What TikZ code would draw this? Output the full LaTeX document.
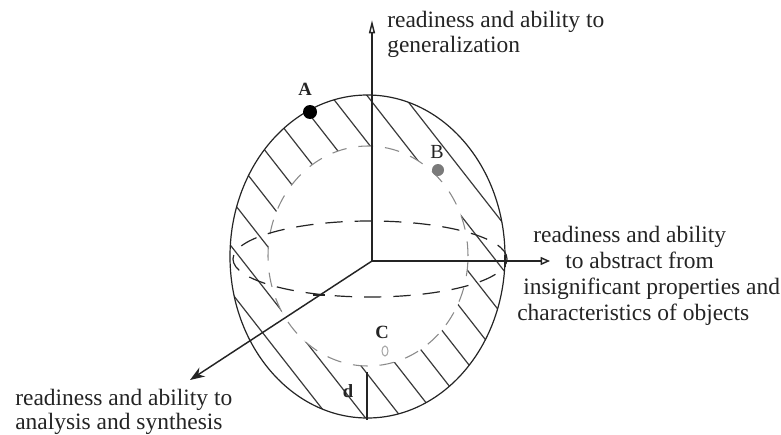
\documentclass[tikz,border=0pt]{standalone}
\usepackage{fontspec}
\setmainfont{Liberation Serif}
\usetikzlibrary{arrows.meta,shapes.geometric}
\definecolor{ink}{HTML}{242424}
\definecolor{hatch}{HTML}{3A3A3A}
\definecolor{dashgray}{HTML}{8A8A8A}
\definecolor{dotgray}{HTML}{7A7A7A}
\definecolor{ringgray}{HTML}{A8A8A8}

\begin{document}
\begin{tikzpicture}[x=0.75pt,y=0.75pt,
  axis/.style={line width=1.1pt,ink},
  rim/.style={line width=0.9pt,ink},
  hatchline/.style={line width=0.9pt,hatch},
  shell/.style={line width=0.8pt,dashgray,dash pattern=on 11pt off 9pt},
  equator/.style={line width=0.9pt,ink,dash pattern=on 13pt off 9pt},
  caption/.style={anchor=base west,align=left,inner sep=0pt,text=ink,font=\fontsize{17.6}{19.4}\selectfont},
  pointlabel/.style={inner sep=0pt,text=ink,font=\fontsize{14}{16}\selectfont\bfseries},
  dot/.style={circle,inner sep=0pt,minimum size=#1}
]
  \useasboundingbox (0,0) rectangle (781,-435);

  % hatched ring between sphere and inner shell
  \begin{scope}
    \clip (367.5,-256.5) ellipse [x radius=137.5,y radius=161.5];
    \foreach \k in {0,...,9}{
      \pgfmathsetmacro{\p}{2+28.55*\k}
      \draw[hatchline] ({(\p+55.4)/0.788},-90) -- ({(\p+261.8)/0.788},-425);
    }
  \end{scope}
  \fill[white] (368,-256) ellipse [x radius=100,y radius=110];

  % sphere, shell and equator
  \draw[rim] (367.5,-256.5) ellipse [x radius=137.5,y radius=161.5];
  \draw[shell] (368,-256) ellipse [x radius=100,y radius=110];
  \draw[equator] (370,-259) ellipse [x radius=137,y radius=38];

  % axes
  \coordinate (origin) at (372,-261);
  \coordinate (genTip) at (372,-20);
  \coordinate (absTip) at (550,-261);
  \coordinate (anaTip) at (190,-380);
  \draw[axis,-{Triangle[open,length=10pt,width=4.5pt]}] (origin) -- (genTip);
  \draw[axis,-{Triangle[open,length=7pt,width=6pt]}] (origin) -- (absTip);
  \draw[axis,-{Stealth[length=11pt,width=8pt]}] (origin) -- (anaTip);

  % marks on the axes
  \draw[line width=1.8pt,ink] (499,-261) -- (511,-261) (505,-255) -- (505,-267);
  \draw[line width=2pt,ink] (313,-295) -- (325,-295);
  \draw[rim] (367,-372) -- (367,-420);

  % points
  \node[dot=10.5pt,fill=black] (ptA) at (310,-112) {};
  \node[dot=9pt,fill=dotgray] (ptB) at (438,-170) {};
  \node[ellipse,draw=ringgray,line width=0.8pt,inner sep=0pt,minimum width=4.5pt,minimum height=7.5pt] (ptC) at (385,-351) {};
  \node[pointlabel] (labA) at (305,-89) {A};
  \node[pointlabel,font=\fontsize{15}{16}\selectfont] (labB) at (437,-152) {B};
  \node[pointlabel] (labC) at (382,-332) {C};
  \node[pointlabel] (labd) at (348,-391) {d};

  % axis captions (base = last line)
  \node[caption] (capGen) at (387,-53) {readiness and ability to\\generalization};
  \node[caption] (capAbs) at (517,-320) {\hspace*{12pt}readiness and ability\\\hspace*{36pt}to abstract from\\\hspace*{4.5pt}insignificant properties and\\characteristics of objects};
  \node[caption,font=\fontsize{17.6}{17.3}\selectfont] (capAna) at (15,-429) {readiness and ability to\\analysis and synthesis};
\end{tikzpicture}
\end{document}
